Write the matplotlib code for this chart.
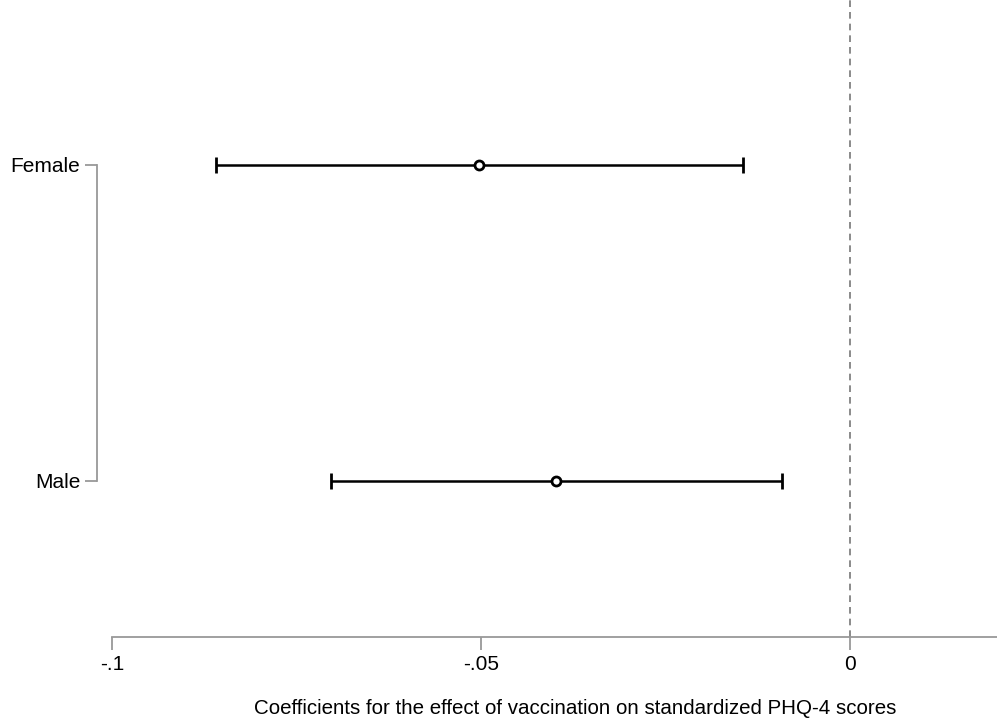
import matplotlib
matplotlib.use("Agg")
import matplotlib.pyplot as plt
import numpy as np

# ==== DATA ==== #
groups = ["Male", "Female"]
coef = [-0.0398, -0.0503]
ci_low = [-0.0703, -0.0859]
ci_high = [-0.0092, -0.0145]

plt.rcParams["font.family"] = ["Liberation Sans", "DejaVu Sans"]

fig = plt.figure(figsize=(9.97, 7.21), dpi=100)
ax = fig.add_axes([97 / 997, 84 / 721, 900 / 997, 637 / 721])

y = np.arange(1, len(groups) + 1)
coef = np.array(coef)
err = [coef - np.array(ci_low), np.array(ci_high) - coef]

ax.axvline(0, color="#777777", linestyle=(0, (4, 3)), linewidth=1.2, zorder=1)
ax.errorbar(coef, y, xerr=err, fmt="o", color="black", ecolor="black",
            elinewidth=1.8, capsize=6, capthick=1.8,
            markersize=6.5, markerfacecolor="white", markeredgecolor="black",
            markeredgewidth=2, zorder=3)

ax.set_xlim(-0.102, 0.0199)
ax.set_ylim(0.506, 2.522)

ax.set_xticks([-0.1, -0.05, 0])
ax.set_xticklabels(["-.1", "-.05", "0"])
ax.set_yticks(y)
ax.set_yticklabels(groups)

for s in ["top", "right"]:
    ax.spines[s].set_visible(False)
ax.spines["bottom"].set_bounds(-0.1, 0.02)
ax.spines["left"].set_bounds(1, 2)
for s in ["bottom", "left"]:
    ax.spines[s].set_color("#999999")
    ax.spines[s].set_linewidth(1.3)

ax.tick_params(axis="both", colors="#999999", length=9, width=1.3,
               labelsize=15, labelcolor="black")
ax.tick_params(axis="y", pad=3)
ax.tick_params(axis="x", pad=4)
ax.set_xlabel("Coefficients for the effect of vaccination on standardized PHQ-4 scores",
              fontsize=14.8)
# label sits a bit right of the axes centre in the original
ax.xaxis.set_label_coords((575 - 97) / 900, -(708 - 637) / 637)
ax.xaxis.label.set_va("center")

fig.savefig("out.png", dpi=100)
